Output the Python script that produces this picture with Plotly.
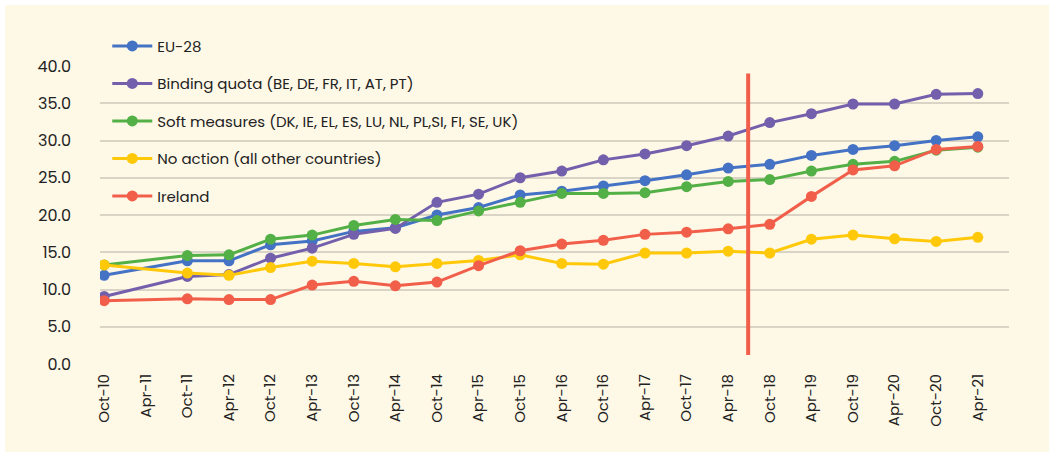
import plotly.graph_objects as go

categories = ["Oct-10", "Apr-11", "Oct-11", "Apr-12", "Oct-12", "Apr-13", "Oct-13", "Apr-14",
              "Oct-14", "Apr-15", "Oct-15", "Apr-16", "Oct-16", "Apr-17", "Oct-17", "Apr-18",
              "Oct-18", "Apr-19", "Oct-19", "Apr-20", "Oct-20", "Apr-21"]

eu28 = [11.9, None, 13.85, 13.85, 16.0, 16.5, 17.8, 18.3, 20.0, 21.0, 22.7, 23.2, 23.9, 24.6,
        25.4, 26.3, 26.8, 28.0, 28.8, 29.3, 30.0, 30.5]
binding = [9.06, None, 11.75, 12.0, 14.2, 15.55, 17.4, 18.2, 21.7, 22.8, 25.0, 25.9, 27.4, 28.2,
           29.3, 30.6, 32.4, 33.6, 34.9, 34.9, 36.2, 36.3]
soft = [13.3, None, 14.55, 14.65, 16.75, 17.3, 18.6, 19.4, 19.25, 20.55, 21.7, 22.9, 22.9, 23.0,
        23.8, 24.5, 24.75, 25.9, 26.8, 27.2, 28.7, 29.1]
no_action = [13.3, None, 12.2, 11.9, 12.95, 13.8, 13.5, 13.05, 13.5, 13.9, 14.65, 13.5, 13.4, 14.9,
             14.9, 15.15, 14.9, 16.75, 17.3, 16.8, 16.45, 17.0]
ireland = [8.5, None, 8.75, 8.65, 8.65, 10.6, 11.1, 10.5, 11.0, 13.2, 15.2, 16.1, 16.6, 17.4,
           17.7, 18.15, 18.75, 22.5, 26.05, 26.6, 28.8, 29.2]

series_names = ["EU-28", "Binding quota (BE, DE, FR, IT, AT, PT)",
                "Soft measures (DK, IE, EL, ES, LU, NL, PL,SI, FI, SE, UK)",
                "No action (all other countries)", "Ireland"]
series_values = [eu28, binding, soft, no_action, ireland]
colors = ["#4472C4", "#7360AC", "#53B046", "#FFC90A", "#F15F4B"]

# vertical marker line (between Apr-18 and Oct-18)
marker_line_x = 15.48
marker_line_y = [1.2, 39.0]

y_ticks = [0, 5, 10, 15, 20, 25, 30, 35, 40]

FONT = "Poppins, Lato, 'Noto Sans', sans-serif"
CREAM = "#FEF8E6"

fig = go.Figure()
for i in range(5):
    fig.add_trace(go.Scatter(
        x=categories, y=series_values[i], name=series_names[i],
        mode="lines+markers", connectgaps=True,
        line=dict(color=colors[i], width=3),
        marker=dict(color=colors[i], size=11),
        legendgroup=f"g{i}", legendrank=i + 1,
    ))

# thin white frame along the top and left edges
fig.add_shape(type="rect", xref="paper", yref="paper",
              x0=-0.2, x1=1.2, y0=1.2047, y1=1.3,
              fillcolor="white", line=dict(width=0), layer="below")
fig.add_shape(type="rect", xref="paper", yref="paper",
              x0=-0.2, x1=-0.1045, y0=-0.4, y1=1.3,
              fillcolor="white", line=dict(width=0), layer="below")

fig.add_shape(type="line", xref="x", yref="y",
              x0=marker_line_x, x1=marker_line_x, y0=marker_line_y[0], y1=marker_line_y[1],
              line=dict(color="#F15F4B", width=4), layer="above")

fig.update_layout(
    width=1049, height=452,
    margin=dict(l=100, r=40, t=66, b=88, autoexpand=False),
    paper_bgcolor=CREAM, plot_bgcolor="rgba(0,0,0,0)",
    font=dict(family=FONT, color="#222222"),
    showlegend=True,
    legend=dict(x=0.008, y=1.122, xanchor="left", yanchor="top",
                bgcolor="rgba(0,0,0,0)", font=dict(size=15, color="#222222"),
                tracegroupgap=15, traceorder="grouped", itemwidth=40),
    xaxis=dict(type="category", categoryorder="array", categoryarray=categories,
               range=[-0.1, 21.75], tickangle=-90, showgrid=False, zeroline=False,
               showline=False, tickfont=dict(size=15, color="#222222"), ticks="",
               ticklabelstandoff=6),
    yaxis=dict(range=[0, 40], tickvals=y_ticks, ticktext=[f"{v:.1f}" for v in y_ticks],
               showgrid=True, gridcolor="#D9D4C6", gridwidth=2, zeroline=False,
               showline=False, tickfont=dict(size=16, color="#222222"), ticks="",
               ticklabelstandoff=28),
)

fig.write_html("out.html", config={"displayModeBar": False},
               post_script=("document.body.style.margin='0px';"
                            "document.body.style.background='" + CREAM + "';"
                            "document.documentElement.style.background='" + CREAM + "';"))
